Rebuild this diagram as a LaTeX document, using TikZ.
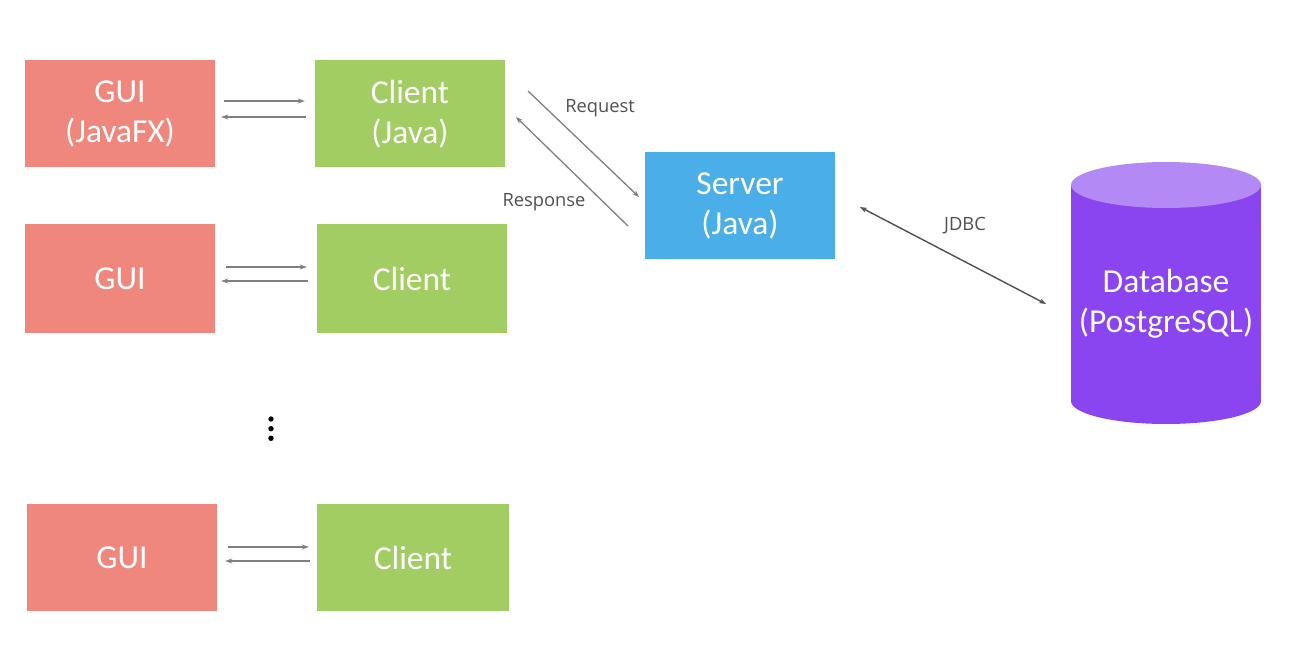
\documentclass[tikz,border=0pt]{standalone}
\usepackage{fontspec}
\usetikzlibrary{arrows.meta,calc}
\newfontfamily\boxfont{Carlito}
\newfontfamily\labfont{Open Sans}
\definecolor{guicol}{HTML}{F0877D}
\definecolor{clicol}{HTML}{A2CD62}
\definecolor{srvcol}{HTML}{4AAEE8}
\definecolor{dbcol}{HTML}{8A44F0}
\definecolor{dbtop}{HTML}{B38AF5}
\definecolor{arrcol}{HTML}{808080}
\definecolor{labcol}{HTML}{505050}
\begin{document}
\begin{tikzpicture}[x=1pt,y=-1pt,
  box/.style={rectangle,minimum width=190pt,minimum height=107pt,inner sep=0pt,
    text=white,align=center,font=\boxfont\fontsize{33.5}{40}\selectfont},
  gui/.style={box,fill=guicol},
  cli/.style={box,fill=clicol},
  srv/.style={box,fill=srvcol},
  arr/.style={draw=arrcol,line width=1.3pt,-{Stealth[length=7pt,width=5pt]}},
  dbarr/.style={draw=labcol,line width=1.4pt,{Stealth[length=7pt,width=5pt]}-{Stealth[length=7pt,width=5pt]}},
  lab/.style={text=labcol,font=\labfont\fontsize{18.3}{21}\selectfont,inner sep=0pt}
]
\useasboundingbox (0,0) rectangle (1316,660);

% boxes
\node[gui] (g1) at (120,114) {GUI\\(JavaFX)};
\node[cli] (c1) at (410,114) {Client\\(Java)};
\node[gui,minimum height=109pt] (g2) at (120,278.5) {GUI};
\node[cli,minimum height=109pt] (c2) at (412,278.5) {Client};
\node[gui] (g3) at (122,557.5) {GUI};
\node[cli,minimum width=192pt] (c3) at (413,557.5) {Client};
\node[srv] (s) at (740,205.5) {Server\\(Java)};

% database cylinder
\fill[dbcol] (1071,185) rectangle (1261,401);
\fill[dbcol] (1166,401) ellipse [x radius=95, y radius=23];
\fill[dbtop] (1166,185) ellipse [x radius=95, y radius=23];
\node[text=white,align=center,font=\boxfont\fontsize{33.5}{40}\selectfont,inner sep=0pt] (db) at (1166,304) {Database\\(PostgreSQL)};

% GUI <-> Client arrows
\draw[arr,shorten <=9pt,shorten >=10pt] (g1.east |- 0,101) -- (c1.west |- 0,101);
\draw[arr,shorten <=9pt,shorten >=6pt] (c1.west |- 0,117) -- (g1.east |- 0,117);
\draw[arr,shorten <=11pt,shorten >=10pt] (g2.east |- 0,267) -- (c2.west |- 0,267);
\draw[arr,shorten <=9pt,shorten >=6pt] (c2.west |- 0,281) -- (g2.east |- 0,281);
\draw[arr,shorten <=11pt,shorten >=8pt] (g3.east |- 0,547) -- (c3.west |- 0,547);
\draw[arr,shorten <=7pt,shorten >=8pt] (c3.west |- 0,561) -- (g3.east |- 0,561);

% Client <-> Server
\coordinate (rqa) at (528,91);
\coordinate (rqb) at (639,197);
\coordinate (rsa) at (628,226);
\coordinate (rsb) at (516,117);
\draw[arr] (rqa) -- (rqb);
\draw[arr] (rsa) -- (rsb);
\node[lab] (lreq) at (600,108) {Request};
\node[lab] (lres) at (544,202) {Response};

% Server <-> Database
\coordinate (ja) at (860,207);
\coordinate (jb) at (1046,304);
\draw[dbarr] (ja) -- (jb);
\node[lab] (ljdbc) at (965,226) {JDBC};

% vertical dots
\fill (271,419) circle (2.7);
\fill (271,428.7) circle (2.7);
\fill (271,438.3) circle (2.7);
\end{tikzpicture}
\end{document}
